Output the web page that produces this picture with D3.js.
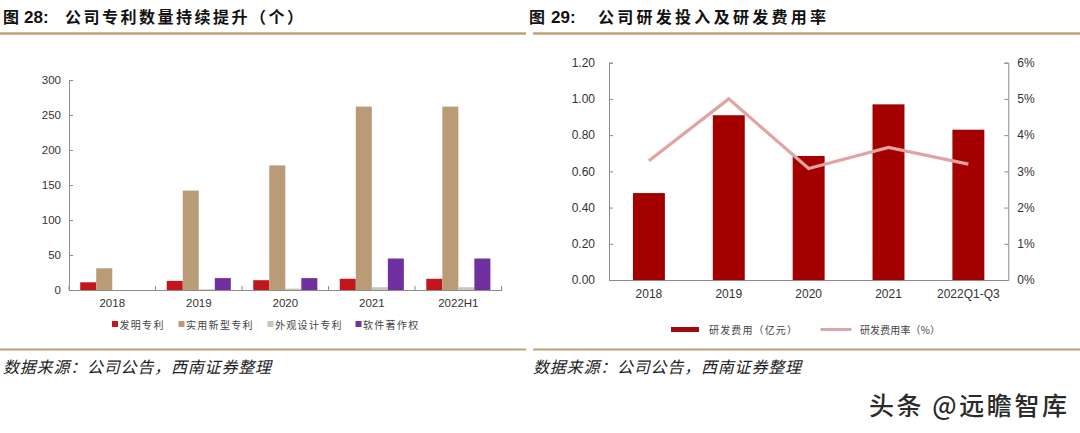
<!DOCTYPE html>
<html>
<head>
<meta charset="utf-8">
<script src="https://cdn.jsdelivr.net/npm/d3@7"></script>
<style>
  html, body { margin: 0; padding: 0; background: #fff; }
  svg { display: block; }
  text { font-family: "Liberation Sans", Arial, sans-serif; }
  .cjk { font-family: "Noto Sans CJK SC", sans-serif; }
</style>
</head>
<body>
<svg id="chart" width="1080" height="433"></svg>
<script>
// ---- data: patents (left) ----
var patentYears = ['2018', '2019', '2020', '2021', '2022H1'];
var patentSeries = ['发明专利', '实用新型专利', '外观设计专利', '软件著作权'];
var inventionPatents = [11, 13, 14, 16, 16];
var utilityPatents = [31, 142, 178, 262, 262];
var designPatents = [0, 1, 2, 4, 4];
var softwareCopyrights = [0, 17, 17, 45, 45];
var patentTicks = [0, 50, 100, 150, 200, 250, 300];

// ---- data: R&D (right) ----
var rdPeriods = ['2018', '2019', '2020', '2021', '2022Q1-Q3'];
var rdExpense = [0.48, 0.91, 0.685, 0.97, 0.83];   // 亿元
var rdRate = [3.29, 5.0, 3.08, 3.66, 3.2];          // %
var rdLeftTicks = [0, 0.2, 0.4, 0.6, 0.8, 1.0, 1.2];
var rdRightTicks = [0, 1, 2, 3, 4, 5, 6];

var patentColors = ['#C3161C', '#B99B78', '#C6C9B9', '#7030A0'];
var barRed = '#A50000';
var lineRed = '#E2A3A3';
var goldLine = '#BFA274';
var axisGrey = '#8C8C8C';
var txt = '#333';

var svg = d3.select('#chart');

// ---- title bars and footers ----
function panelFrame(x0, x1, num, title, tuX, numX, titleX, titleLen, srcX) {
  var g = svg.append('g');
  g.append('text').attr('class', 'cjk').attr('x', tuX).attr('y', 23)
    .attr('font-size', 16).attr('font-weight', 'bold').attr('fill', '#111').text('图');
  g.append('text').attr('x', numX).attr('y', 23)
    .attr('font-size', 17).attr('font-weight', 'bold').attr('fill', '#111').text(num + ':');
  g.append('text').attr('class', 'cjk').attr('x', titleX).attr('y', 23)
    .attr('font-size', 16).attr('font-weight', 'bold').attr('fill', '#111')
    .attr('textLength', titleLen).attr('lengthAdjust', 'spacing').text(title);
  g.append('line').attr('x1', x0).attr('x2', x1).attr('y1', 33.5).attr('y2', 33.5)
    .attr('stroke', goldLine).attr('stroke-width', 2.6);
  g.append('line').attr('x1', x0).attr('x2', x1).attr('y1', 349.5).attr('y2', 349.5)
    .attr('stroke', goldLine).attr('stroke-width', 2);
  g.append('text').attr('class', 'cjk').attr('x', srcX).attr('y', 373)
    .attr('font-size', 16).attr('font-style', 'italic').attr('fill', '#222')
    .attr('textLength', 268).attr('lengthAdjust', 'spacing')
    .text('数据来源：公司公告，西南证券整理');
}
panelFrame(0, 526, '28', '公司专利数量持续提升（个）', 3, 24, 65, 238, 3);
panelFrame(533, 1080, '29', '公司研发投入及研发费用率', 529, 551, 598, 228, 533);

// ---- left chart: patents ----
var L = { left: 69, right: 501.6, top: 80, bottom: 290 };
var x0L = d3.scaleBand().domain(patentYears).range([L.left, L.right]);
var x1L = d3.scaleBand().domain(patentSeries).range([0, x0L.bandwidth()]).paddingOuter(0.7);
var yL = d3.scaleLinear().domain([0, 300]).range([L.bottom, L.top]);

var patentValues = [inventionPatents, utilityPatents, designPatents, softwareCopyrights];
var left = svg.append('g');

patentSeries.forEach(function (s, si) {
  left.append('g').selectAll('rect').data(patentValues[si]).join('rect')
    .attr('x', function (d, i) { return x0L(patentYears[i]) + x1L(s); })
    .attr('width', x1L.bandwidth())
    .attr('y', function (d) { return yL(d); })
    .attr('height', function (d) { return yL(0) - yL(d); })
    .attr('fill', patentColors[si]);
});

var yAxisL = left.append('g').attr('transform', 'translate(' + L.left + ',0)')
  .call(d3.axisLeft(yL).tickValues(patentTicks).tickSize(-4).tickPadding(8));
var xAxisL = left.append('g').attr('transform', 'translate(0,' + L.bottom + ')')
  .call(d3.axisBottom(x0L).tickSize(0).tickPadding(9));
// category boundary ticks
left.append('g').selectAll('line').data(patentYears.concat(['end'])).join('line')
  .attr('x1', function (d, i) { return L.left + i * x0L.step(); })
  .attr('x2', function (d, i) { return L.left + i * x0L.step(); })
  .attr('y1', L.bottom).attr('y2', L.bottom - 4)
  .attr('stroke', axisGrey);
[yAxisL, xAxisL].forEach(function (a) {
  a.selectAll('path, line').attr('stroke', axisGrey);
  a.selectAll('text').attr('font-size', 11.5).attr('fill', txt)
    .attr('font-family', '"Liberation Sans", Arial, sans-serif');
});

// legend left
var legL = left.append('g');
var legXs = [112, 178.5, 267.5, 355.5];
patentSeries.forEach(function (s, i) {
  legL.append('rect').attr('x', legXs[i]).attr('y', 321).attr('width', 6).attr('height', 6)
    .attr('fill', patentColors[i]);
  legL.append('text').attr('class', 'cjk').attr('x', legXs[i] + 7.5).attr('y', 328.5)
    .attr('font-size', 10).attr('fill', '#444').attr('letter-spacing', 1.3).text(s);
});

// ---- right chart: R&D ----
var R = { left: 609, right: 1008.3, top: 62.7, bottom: 280 };
var xR = d3.scaleBand().domain(rdPeriods).range([R.left, R.right]).paddingInner(0.6).paddingOuter(0.3);
var yR = d3.scaleLinear().domain([0, 1.2]).range([R.bottom, R.top]);
var yR2 = d3.scaleLinear().domain([0, 6]).range([R.bottom, R.top]);
var right = svg.append('g');

right.append('g').selectAll('rect').data(rdExpense).join('rect')
  .attr('x', function (d, i) { return xR(rdPeriods[i]); })
  .attr('width', xR.bandwidth())
  .attr('y', function (d) { return yR(d); })
  .attr('height', function (d) { return yR(0) - yR(d); })
  .attr('fill', barRed);

var line = d3.line()
  .x(function (d, i) { return xR(rdPeriods[i]) + xR.bandwidth() / 2; })
  .y(function (d) { return yR2(d); });
right.append('path').datum(rdRate).attr('d', line)
  .attr('fill', 'none').attr('stroke', lineRed).attr('stroke-width', 3.2)
  .attr('stroke-linejoin', 'miter');

var yAxisR = right.append('g').attr('transform', 'translate(' + R.left + ',0)')
  .call(d3.axisLeft(yR).tickValues(rdLeftTicks).tickSize(-4).tickPadding(14)
    .tickFormat(d3.format('.2f')));
var yAxisR2 = right.append('g').attr('transform', 'translate(' + R.right + ',0)')
  .call(d3.axisRight(yR2).tickValues(rdRightTicks).tickSize(-4).tickPadding(9)
    .tickFormat(function (d) { return d + '%'; }));
var xAxisR = right.append('g').attr('transform', 'translate(0,' + R.bottom + ')')
  .call(d3.axisBottom(xR).tickSize(0).tickPadding(9));
xAxisR.select('.domain').attr('d', 'M' + R.left + ',0.5H' + R.right);
[yAxisR, yAxisR2, xAxisR].forEach(function (a) {
  a.selectAll('path, line').attr('stroke', axisGrey);
  a.selectAll('text').attr('font-size', 12).attr('fill', txt)
    .attr('font-family', '"Liberation Sans", Arial, sans-serif');
});

// legend right
var legR = right.append('g');
legR.append('line').attr('x1', 671).attr('x2', 699).attr('y1', 329.5).attr('y2', 329.5)
  .attr('stroke', '#9E0B0F').attr('stroke-width', 5);
legR.append('text').attr('class', 'cjk').attr('x', 709).attr('y', 333.5)
  .attr('font-size', 10).attr('fill', '#444').attr('textLength', 88)
  .attr('lengthAdjust', 'spacing').text('研发费用（亿元）');
legR.append('line').attr('x1', 820.5).attr('x2', 851.5).attr('y1', 329.5).attr('y2', 329.5)
  .attr('stroke', '#D9A8A8').attr('stroke-width', 3);
legR.append('text').attr('class', 'cjk').attr('x', 860).attr('y', 333.5)
  .attr('font-size', 10).attr('fill', '#444').attr('textLength', 80)
  .attr('lengthAdjust', 'spacing').text('研发费用率（%）');

// watermark
svg.append('text').attr('class', 'cjk').attr('x', 869).attr('y', 415)
  .attr('font-size', 25).attr('font-weight', 500).attr('fill', '#2b2b2b')
  .attr('textLength', 198).attr('lengthAdjust', 'spacing').text('头条 @远瞻智库');
</script>
</body>
</html>
